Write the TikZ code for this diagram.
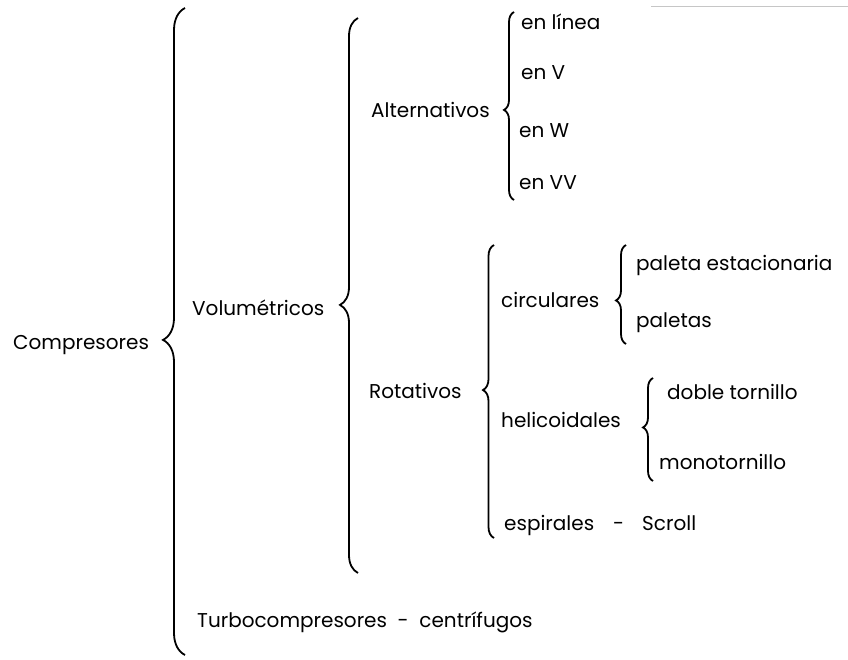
\documentclass[tikz,border=0pt]{standalone}
\usepackage{fontspec}
\setmainfont{Poppins}
\usetikzlibrary{decorations.pathreplacing}

\tikzset{
	lbl/.style={anchor=mid west, inner sep=0pt, yshift=-5pt, font=\fontsize{20}{22}\selectfont},
	llave/.style={line width=1.8pt, decorate, decoration={brace, amplitude=#1}},
}

\begin{document}
\begin{tikzpicture}[x=1pt,y=-1pt]
	\useasboundingbox (0,0) rectangle (848,660);
	% rayita gris del escaneo
	\draw[gray!45, line width=0.8pt] (651,6) -- (848,6);
	% nivel 1
	\node[lbl] (comp) at (13,342) {Compresores};
	\coordinate (l1a) at (185,655); \coordinate (l1b) at (185,8);
	\draw[llave=22, decoration={aspect=0.487}] (l1a) -- (l1b);
	% nivel 2
	\node[lbl] (vol) at (192,308) {Volumétricos};
	\node[lbl] (turbo) at (197,620) {Turbocompresores\ \ -\ \ centrífugos};
	\coordinate (l2a) at (358,573); \coordinate (l2b) at (358,18);
	\draw[llave=18, decoration={aspect=0.483}] (l2a) -- (l2b);
	% nivel 3
	\node[lbl] (alt) at (371,110) {Alternativos};
	\node[lbl] (rot) at (369,391) {Rotativos};
	\coordinate (l3a) at (514,200); \coordinate (l3b) at (514,12);
	\draw[llave=10, decoration={aspect=0.479}] (l3a) -- (l3b);
	\coordinate (l4a) at (494,538); \coordinate (l4b) at (494,245);
	\draw[llave=11, decoration={aspect=0.505}] (l4a) -- (l4b);
	% alternativos
	\node[lbl] (linea) at (521,22) {en línea};
	\node[lbl] (env) at (521,72) {en V};
	\node[lbl] (enw) at (519,130) {en W};
	\node[lbl] (envv) at (519,182) {en VV};
	% rotativos
	\node[lbl] (circ) at (501,300) {circulares};
	\node[lbl] (heli) at (501,420) {helicoidales};
	\node[lbl] (espi) at (504,523) {espirales};
	\node[lbl] (guion) at (613,523) {-};
	\node[lbl] (scroll) at (642,523) {Scroll};
	\coordinate (l5a) at (626,344); \coordinate (l5b) at (626,245);
	\draw[llave=10, decoration={aspect=0.44}] (l5a) -- (l5b);
	\coordinate (l6a) at (653,481); \coordinate (l6b) at (653,378);
	\draw[llave=10, decoration={aspect=0.52}] (l6a) -- (l6b);
	% nivel 4
	\node[lbl] (pest) at (636,263) {paleta estacionaria};
	\node[lbl] (pal) at (636,320) {paletas};
	\node[lbl] (doble) at (667,392) {doble tornillo};
	\node[lbl] (mono) at (659,462) {monotornillo};
\end{tikzpicture}
\end{document}
